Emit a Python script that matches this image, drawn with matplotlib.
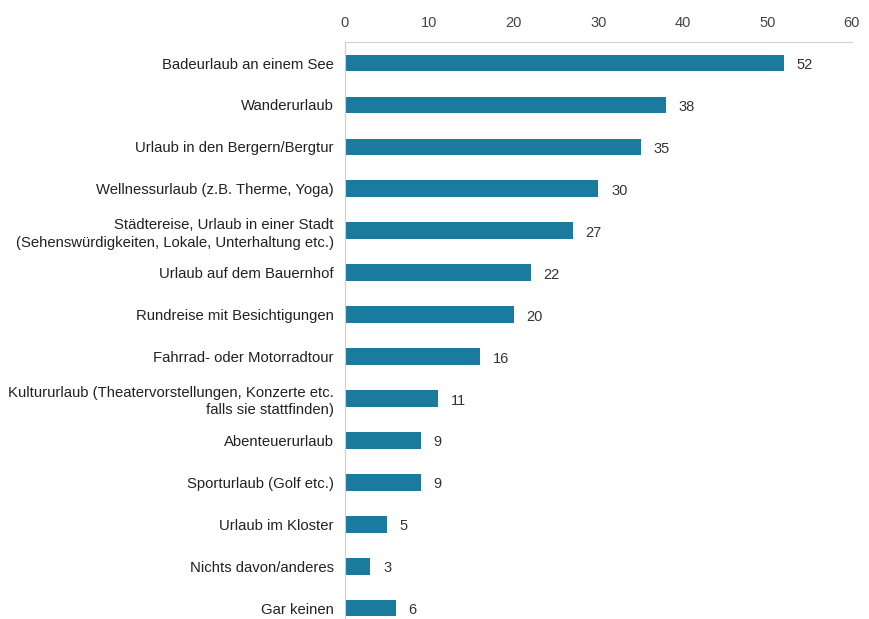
import matplotlib.pyplot as plt

# Urlaubsarten (Anteil in %)
categories = [
    'Badeurlaub an einem See',
    'Wanderurlaub',
    'Urlaub in den Bergern/Bergtur',
    'Wellnessurlaub (z.B. Therme, Yoga)',
    'Städtereise, Urlaub in einer Stadt\n(Sehenswürdigkeiten, Lokale, Unterhaltung etc.)',
    'Urlaub auf dem Bauernhof',
    'Rundreise mit Besichtigungen',
    'Fahrrad- oder Motorradtour',
    'Kultururlaub (Theatervorstellungen, Konzerte etc.\nfalls sie stattfinden)',
    'Abenteuerurlaub',
    'Sporturlaub (Golf etc.)',
    'Urlaub im Kloster',
    'Nichts davon/anderes',
    'Gar keinen',
]
values = [52, 38, 35, 30, 27, 22, 20, 16, 11, 9, 9, 5, 3, 6]
xticks = [0, 10, 20, 30, 40, 50, 60]

plt.rcParams['font.family'] = ['Liberation Sans', 'DejaVu Sans']

fig = plt.figure(figsize=(8.69, 6.19), dpi=100)
ax = fig.add_axes([0.397, 0.0, 0.583, 0.932])

pos = list(range(len(categories)))
ax.barh(pos, values, height=0.4, color='#1b7b9e')

for p, v in zip(pos, values):
    ax.text(v + 1.5, p + 0.05, str(v), va='center', ha='left', fontsize=10.5, color='#333333')

ax.set_xlim(0, 60)
ax.set_ylim(13.26, -0.5)
ax.set_yticks(pos)
ax.set_yticklabels(categories, fontsize=10.7, color='#222222', ha='right', linespacing=1.3)
ax.set_xticks(xticks)
ax.xaxis.tick_top()
ax.tick_params(axis='x', length=0, pad=9, labelsize=10.5, labelcolor='#444444')
ax.tick_params(axis='y', length=0, pad=8)

for s in ['right', 'bottom']:
    ax.spines[s].set_visible(False)
ax.spines['left'].set_color('#cccccc')
ax.spines['top'].set_color('#d8d0c8')
ax.spines['left'].set_linewidth(0.8)
ax.spines['top'].set_linewidth(0.8)

fig.savefig('out.png', dpi=100)
